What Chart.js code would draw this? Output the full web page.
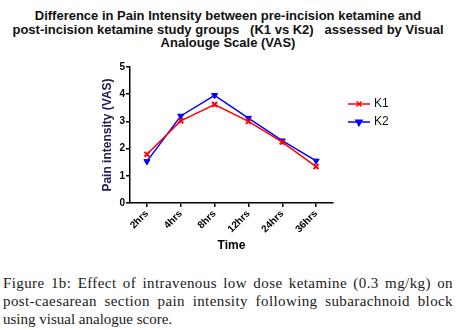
<!DOCTYPE html>
<html>
<head>
<meta charset="utf-8">
<script src="https://cdn.jsdelivr.net/npm/chart.js@4"></script>
<style>
  body { margin: 0; width: 456px; height: 330px; background: #fff; position: relative; overflow: hidden; }
  #title { position: absolute; top: 9px; left: 0; width: 456px; text-align: center;
    font: bold 13px "Liberation Sans", Arial, sans-serif; line-height: 13.5px; color: #111; white-space: pre; }
  #wrap { position: absolute; top: 55px; left: 0; width: 456px; height: 200px; }
  #caption { position: absolute; top: 274px; left: 3px; width: 450px;
    font: 15px "Liberation Serif", "Times New Roman", serif; line-height: 18px; color: #1a1a1a; }
  #caption .j { text-align: justify; text-align-last: justify; letter-spacing: 0.4px; }
</style>
</head>
<body>
<div id="title">Difference in Pain Intensity between pre-incision ketamine and
post-incision ketamine study groups   (K1 vs K2)   assessed by Visual
Analouge Scale (VAS)</div>
<div id="wrap"><canvas id="painChart"></canvas></div>
<div id="caption">
  <div class="j">Figure 1b: Effect of intravenous low dose ketamine (0.3 mg/kg) on</div>
  <div class="j">post-caesarean section pain intensity following subarachnoid block</div>
  <div>using visual analogue score.</div>
</div>
<script>
const times = ['2hrs', '4hrs', '8hrs', '12hrs', '24hrs', '36hrs'];
const k1 = [1.79, 3.02, 3.62, 3.0, 2.24, 1.34];
const k2 = [1.53, 3.2, 3.96, 3.12, 2.29, 1.55];
const yTicks = [0, 1, 2, 3, 4, 5];

// legend drawn next to the plot, like the original graph
const sideLegend = {
  id: 'sideLegend',
  afterDraw(chart) {
    const ctx = chart.ctx;
    const x = chart.chartArea.right + 15;
    let y = chart.chartArea.top + 37;
    chart.data.datasets.forEach(ds => {
      ctx.save();
      ctx.strokeStyle = ds.borderColor;
      ctx.fillStyle = ds.backgroundColor;
      ctx.lineWidth = 1.5;
      ctx.beginPath();
      ctx.moveTo(x, y);
      ctx.lineTo(x + 22, y);
      ctx.stroke();
      Chart.helpers.drawPoint(ctx, {
        pointStyle: ds.pointStyle, radius: 3.5, rotation: ds.pointRotation || 0, borderWidth: 1.5
      }, x + 11, y);
      ctx.fillStyle = '#111';
      ctx.font = '12px "Liberation Sans", Arial, sans-serif';
      ctx.textBaseline = 'middle';
      ctx.fillText(ds.label, x + 26, y);
      ctx.restore();
      y += 18;
    });
  }
};

const ctx = document.getElementById('painChart').getContext('2d');
new Chart(ctx, {
  type: 'line',
  data: {
    labels: times,
    datasets: [{
      label: 'K1',
      data: k1,
      borderColor: '#ff0000',
      backgroundColor: '#ff0000',
      borderWidth: 1.5,
      pointStyle: 'crossRot',
      pointRadius: 3.5,
      pointBorderWidth: 2,
      tension: 0
    }, {
      label: 'K2',
      data: k2,
      borderColor: '#0000ff',
      backgroundColor: '#0000ff',
      borderWidth: 1.5,
      pointStyle: 'triangle',
      pointRotation: 180,
      pointRadius: 3.5,
      pointBorderWidth: 1,
      tension: 0
    }]
  },
  options: {
    responsive: true,
    maintainAspectRatio: false,
    animation: false,
    layout: { padding: { left: 100, right: 123, top: 12, bottom: 2 } },
    plugins: {
      legend: { display: false },
      tooltip: { enabled: false }
    },
    scales: {
      x: {
        offset: true,
        grid: { display: true, drawOnChartArea: false, offset: false, tickLength: 4, color: '#000', lineWidth: 1.5 },
        border: { color: '#000', width: 1.5 },
        ticks: {
          color: '#000', minRotation: 45, maxRotation: 45, padding: 1,
          font: { family: '"Liberation Sans", Arial, sans-serif', size: 10, weight: 'bold' }
        },
        title: {
          display: true, text: 'Time', color: '#000', padding: { top: 0, bottom: 0 },
          font: { family: '"Liberation Sans", Arial, sans-serif', size: 12, weight: 'bold' }
        },
        afterFit(scale) { scale.height = 50; }
      },
      y: {
        min: 0, max: 5,
        afterBuildTicks(scale) { scale.ticks = yTicks.map(v => ({ value: v })); },
        grid: { display: true, drawOnChartArea: false, tickLength: 4, color: '#000', lineWidth: 1.5 },
        border: { color: '#000', width: 1.5 },
        ticks: {
          color: '#000', padding: 1,
          font: { family: '"Liberation Sans", Arial, sans-serif', size: 10, weight: 'bold' }
        },
        title: {
          display: true, text: 'Pain intensity (VAS)', color: '#20205a', padding: { top: 0, bottom: 2 },
          font: { family: '"Liberation Sans", Arial, sans-serif', size: 12, weight: 'bold' }
        },
        afterFit(scale) { scale.width = 30; }
      }
    }
  },
  plugins: [sideLegend]
});
</script>
</body>
</html>
